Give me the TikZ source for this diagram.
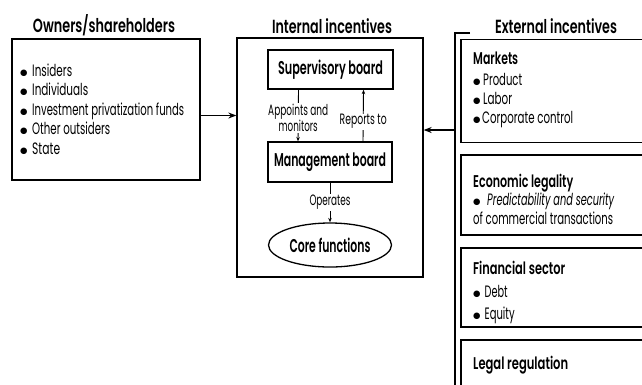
\documentclass[tikz,border=0pt]{standalone}
\usepackage{fontspec}
\usepackage{graphicx}
\setmainfont{Poppins}
\newfontfamily\semib{Poppins SemiBold}
\newfontfamily\symfont{DejaVu Sans}
% text squeezed to a given width, natural height kept
\newcommand{\fitw}[2]{\resizebox{#1pt}{\height}{#2}}
% round list bullet in a box of the given width
\newcommand{\bul}[1]{\makebox[#1pt][l]{\raisebox{0.8pt}{\symfont\fontsize{8.5}{8.5}\selectfont ●}}}
\usetikzlibrary{arrows.meta,shapes.geometric}
\begin{document}
\begin{tikzpicture}[x=1pt,y=-1pt,
  frame/.style={draw,line width=1.3pt,inner sep=0pt},
  heading/.style={anchor=base,inner sep=0pt,font=\semib\fontsize{19}{21}\selectfont},
  boxtitle/.style={font=\semib\fontsize{18.5}{20}\selectfont},
  item/.style={anchor=base west,inner sep=0pt,font=\fontsize{16.5}{18}\selectfont},
  itemhead/.style={anchor=base west,inner sep=0pt,font=\semib\fontsize{17}{19}\selectfont},
  small/.style={font=\fontsize{15}{15}\selectfont,align=center,fill=white,inner sep=1pt},
  bigarrow/.style={line width=1.2pt,-{Stealth[length=8pt,width=6pt]}},
  smallarrow/.style={line width=0.9pt,-{Stealth[length=4.5pt,width=3.5pt]}}]
\useasboundingbox (0,0) rectangle (642,384);

% column headings
\node[heading] (hown) at (104,32) {\fitw{142}{Owners/shareholders}};
\node[heading] (hint) at (332,33) {\fitw{120}{Internal incentives}};
\node[heading] (hext) at (556,33) {\fitw{122}{External incentives}};

% owners
\node[frame,minimum width=188pt,minimum height=141pt] (owners) at (106,109.5) {};
\node[item] (o1) at (20,76) {\bul{12}\fitw{40}{Insiders}};
\node[item] (o2) at (20,95.5) {\bul{12}\fitw{56}{Individuals}};
\node[item] (o3) at (20,115) {\bul{12}\fitw{152}{Investment privatization funds}};
\node[item] (o4) at (20,134.5) {\bul{12}\fitw{78}{Other outsiders}};
\node[item] (o5) at (20,154) {\bul{12}\fitw{28}{State}};

% internal incentives
\node[frame,minimum width=186pt,minimum height=239pt] (internal) at (330,157.5) {};
\node[frame,boxtitle,minimum width=125pt,minimum height=39pt] (sup) at (330.5,69.5) {\fitw{105}{Supervisory board}};
\node[frame,boxtitle,minimum width=124pt,minimum height=40pt] (mgmt) at (330,162) {\fitw{112}{Management board}};
\node[draw,ellipse,line width=1.3pt,boxtitle,minimum width=123pt,minimum height=44pt,inner sep=0pt] (core) at (330,245) {\fitw{81}{Core functions}};

\draw[smallarrow] ([xshift=-32pt]sup.south) -- ([xshift=-32pt]mgmt.north)
  node[small,pos=0.55] (lapp) {\fitw{60}{Appoints and}\\[0pt]\fitw{39}{monitors}};
\draw[smallarrow] ([xshift=33pt]mgmt.north) -- ([xshift=33pt]sup.south)
  node[small,pos=0.38] (lrep) {\fitw{47}{Reports to}};
\draw[smallarrow] (mgmt.south) -- (core.north)
  node[small,midway] (lop) {\fitw{41}{Operates}};

% external incentives
\coordinate (brtop) at (455,33);
\coordinate (brtick) at (470,33);
\coordinate (brbot) at (455,386);
\coordinate (brmid) at (455,130);
\draw[line width=1.3pt] (brtick) -- (brtop) -- (brbot);

\node[frame,minimum width=182pt,minimum height=103pt] (markets) at (552,91) {};
\node[itemhead] (m0) at (473,64) {\fitw{45}{Markets}};
\node[item] (m1) at (473,85) {\bul{10}\fitw{39}{Product}};
\node[item] (m2) at (473,104) {\bul{10}\fitw{29}{Labor}};
\node[item] (m3) at (473,123) {\bul{9}\fitw{91}{Corporate control}};

\node[frame,minimum width=182pt,minimum height=80pt] (econ) at (552,195) {};
\node[itemhead] (e0) at (473,187) {\fitw{100}{Economic legality}};
\node[item] (e1) at (473,205) {\bul{14}\fitw{127}{\itshape Predictability and security}};
\node[item] (e2) at (473,224) {\fitw{140}{of commercial transactions}};

\node[frame,minimum width=182pt,minimum height=79pt] (fin) at (552,287.5) {};
\node[itemhead] (f0) at (473,274) {\fitw{92}{Financial sector}};
\node[item] (f1) at (473,297) {\bul{11.5}\fitw{23}{Debt}};
\node[item] (f2) at (473,319) {\bul{11.5}\fitw{30}{Equity}};

\node[frame,minimum width=182pt,minimum height=60pt] (legal) at (552,370) {};
\node[itemhead] (l0) at (473,369) {\fitw{95}{Legal regulation}};

% connectors into the internal box
\coordinate (ownarrow) at ([yshift=-6pt]owners.east);
\draw[bigarrow] (ownarrow) -- (ownarrow -| internal.west);
\draw[bigarrow] (brmid) -- (brmid -| internal.east);
\end{tikzpicture}
\end{document}
